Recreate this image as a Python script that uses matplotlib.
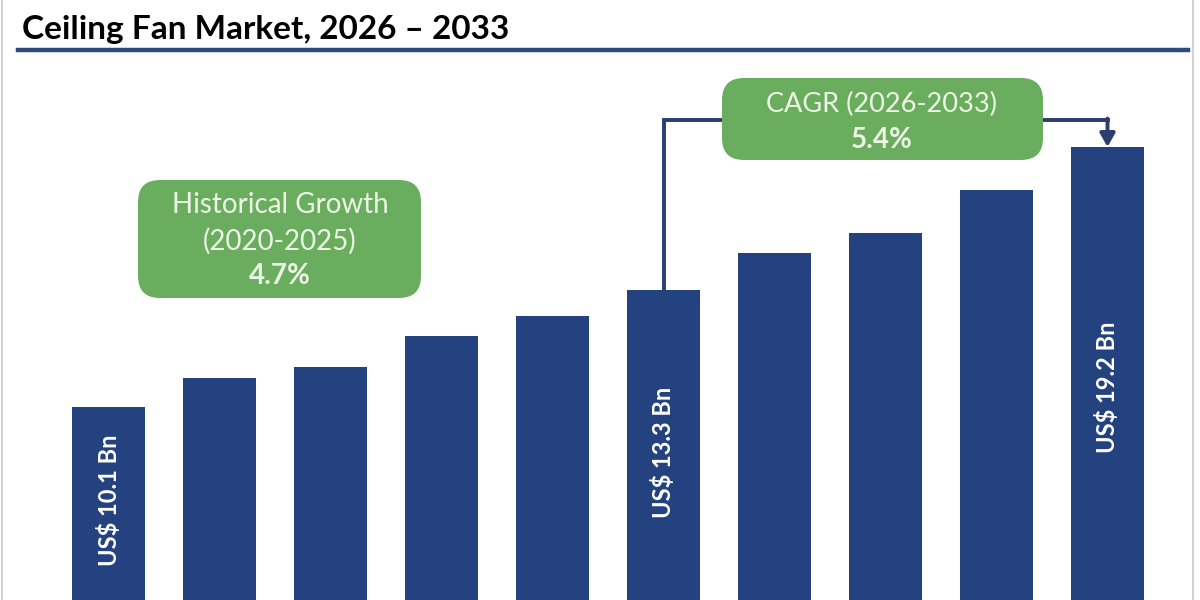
import numpy as np
import matplotlib
matplotlib.use("Agg")
import matplotlib.pyplot as plt
from matplotlib.patches import FancyBboxPatch
from matplotlib.lines import Line2D

# ----------------------------------------------------------------
#  Dados
# ----------------------------------------------------------------
valores     = [10.1, 11.1, 11.5, 12.6, 13.3, 14.2, 15.5, 16.2, 17.7, 19.2]
rotulos_idx = [0, 5, 9]
rotulos_txt = ["US$ 10.1 Bn", "US$ 13.3 Bn", "US$ 19.2 Bn"]
titulo      = "Ceiling Fan Market, 2026 \u2013 2033"
hist_txt    = ["Historical Growth", "(2020-2025)", "4.7%"]
cagr_txt    = ["CAGR (2026-2033)", "5.4%"]

AZUL      = "#23427F"
AZUL_LIN  = "#2B3F6F"
VERDE     = "#6AAD5F"
TXT_BOX   = "#EDF7E6"
FONTE     = ["Lato", "DejaVu Sans"]

plt.rcParams["font.family"] = FONTE

W, H = 1200, 600
fig = plt.figure(figsize=(12, 6), dpi=100)
fig.patch.set_facecolor("white")

ax = fig.add_axes([0, 0, 1, 1])
ax.set_axis_off()

# escala: 28.57 px por unidade, barra 1 com topo em y=407 px
px_un = 28.57
def v_px(p):
    return 10.1 + (407 - p) / px_un

passo = 111.0
x0 = 108.5
ax.set_xlim(-x0 / passo, (W - x0) / passo)
ax.set_ylim(v_px(H), v_px(0))

x = np.arange(len(valores))
ax.bar(x, valores, width=0.665, color=AZUL, zorder=2)

# rótulos verticais nas barras
rot_y = [v_px(500), v_px(452), v_px(387)]
for i, t, yy in zip(rotulos_idx, rotulos_txt, rot_y):
    ax.text(x[i], yy, t, rotation=90, ha="center", va="center",
            color="white", fontsize=17, fontweight="bold", zorder=3)

# ----------------------------------------------------------------
#  Título + linha
# ----------------------------------------------------------------
fig.text(22 / W, 1 - 29 / H, titulo, ha="left", va="center",
         fontsize=24, fontweight="bold", color="black")
fig.add_artist(Line2D([18 / W, 1188 / W], [1 - 50 / H, 1 - 50 / H],
                      color="#2F4B7C", lw=3.2))

# bordas cinza
for xb in (2, 1193):
    fig.add_artist(Line2D([xb / W, xb / W], [0, 1], color="#C8C8C8", lw=1.2))

# ----------------------------------------------------------------
#  Caixas arredondadas (coordenadas em pixel)
# ----------------------------------------------------------------
def caixa_px(x1, y1, x2, y2):
    r = 22
    p = FancyBboxPatch((x1 + r, H - y2 + r), x2 - x1 - 2 * r, y2 - y1 - 2 * r,
                       boxstyle=f"round,pad={r},rounding_size={r}",
                       transform=None, facecolor=VERDE, edgecolor="none",
                       zorder=4)
    fig.add_artist(p)

# histórico
caixa_px(138, 180, 421, 298)
fig.text(280 / W, 1 - 205 / H, hist_txt[0], ha="center", va="center",
         fontsize=20, color=TXT_BOX, zorder=5)
fig.text(280 / W, 1 - 241 / H, hist_txt[1], ha="center", va="center",
         fontsize=20, color=TXT_BOX, zorder=5)
fig.text(280 / W, 1 - 276 / H, hist_txt[2], ha="center", va="center",
         fontsize=20, fontweight="bold", color=TXT_BOX, zorder=5)

# ----------------------------------------------------------------
#  CAGR + conector
# ----------------------------------------------------------------
y_con = v_px(120)
ax.plot([x[5], x[5], x[9]], [valores[5], y_con, y_con],
        color=AZUL_LIN, lw=2.8, solid_joinstyle="miter", zorder=1)
ax.annotate("", xy=(x[9], valores[9]), xytext=(x[9], y_con + 0.05),
            arrowprops=dict(arrowstyle="-|>,head_length=0.8,head_width=0.45",
                            color=AZUL_LIN, lw=2.8, shrinkA=0, shrinkB=0),
            zorder=1)

caixa_px(722, 78, 1043, 160)
fig.text(882 / W, 1 - 104 / H, cagr_txt[0], ha="center", va="center",
         fontsize=19.5, color=TXT_BOX, zorder=5)
fig.text(882 / W, 1 - 140 / H, cagr_txt[1], ha="center", va="center",
         fontsize=20, fontweight="bold", color=TXT_BOX, zorder=5)

fig.savefig("out.png", dpi=100)
